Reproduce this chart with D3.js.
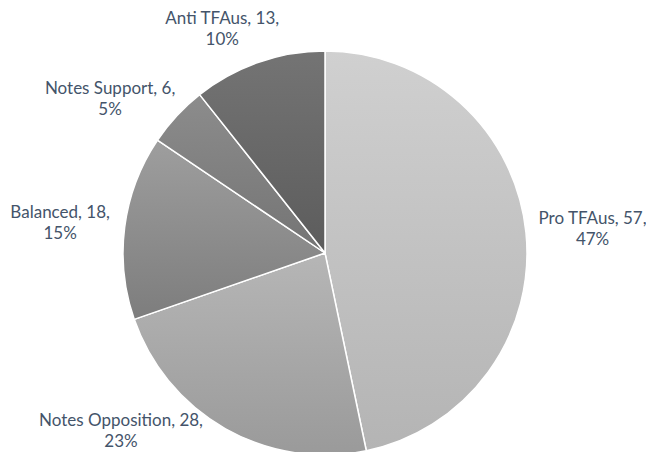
<!DOCTYPE html>
<html>
<head>
<meta charset="utf-8">
<script src="https://cdn.jsdelivr.net/npm/d3@7"></script>
<style>
  html, body { margin: 0; padding: 0; background: #fff; }
  svg { display: block; }
</style>
</head>
<body>
<div id="chart"></div>
<script>
// Data
const categories = ["Pro TFAus", "Notes Opposition", "Balanced", "Notes Support", "Anti TFAus"];
const counts = [57, 28, 18, 6, 13];
const percentLabels = ["47%", "23%", "15%", "5%", "10%"];

// Slice gradients (top, bottom)
const fillTop = ["#d0d0d0", "#b6b6b6", "#9e9e9e", "#8c8c8c", "#747474"];
const fillBottom = ["#b4b4b4", "#9a9a9a", "#7d7d7d", "#747474", "#5c5c5c"];

// Label placement: angle shift from slice middle (deg) and radius factor
const labelAngleShift = [0.7, 19.4, -0.8, -7.1, -5.4];
const labelRadius = [1.33, 1.34, 1.32, 1.31, 1.223];

const width = 646, height = 452;
const cx = 325, cy = 253, radius = 202;

const svg = d3.select("#chart")
  .append("svg")
  .attr("width", width)
  .attr("height", height)
  .attr("viewBox", [0, 0, width, height]);

const defs = svg.append("defs");
categories.forEach((c, i) => {
  const grad = defs.append("linearGradient")
    .attr("id", `grad-${i}`)
    .attr("x1", 0).attr("y1", 0)
    .attr("x2", 0).attr("y2", 1);
  grad.append("stop").attr("offset", "0%").attr("stop-color", fillTop[i]);
  grad.append("stop").attr("offset", "100%").attr("stop-color", fillBottom[i]);
});

const pie = d3.pie().sort(null).value((d) => d.value);
const data = categories.map((c, i) => ({ name: c, value: counts[i], pct: percentLabels[i], i }));
const arcs = pie(data);

const arc = d3.arc().innerRadius(0).outerRadius(radius);

const g = svg.append("g").attr("transform", `translate(${cx},${cy})`);

g.selectAll("path")
  .data(arcs)
  .join("path")
  .attr("d", arc)
  .attr("fill", (d) => `url(#grad-${d.data.i})`)
  .attr("stroke", "#fff")
  .attr("stroke-width", 1.5)
  .attr("stroke-linejoin", "round");

// Labels
const labels = g.selectAll("text.label")
  .data(arcs)
  .join("text")
  .attr("class", "label")
  .attr("text-anchor", "middle")
  .style("font-family", "Lato, 'Open Sans', sans-serif")
  .style("font-size", "17px")
  .attr("fill", "#44546a")
  .attr("transform", (d) => {
    const i = d.data.i;
    const a = (d.startAngle + d.endAngle) / 2 + (labelAngleShift[i] * Math.PI) / 180;
    const r = radius * labelRadius[i];
    return `translate(${r * Math.sin(a)},${-r * Math.cos(a)})`;
  });

labels.append("tspan")
  .attr("x", 0)
  .attr("y", -4.5)
  .text((d) => `${d.data.name}, ${d.data.value},`);

labels.append("tspan")
  .attr("x", 0)
  .attr("y", 16.5)
  .text((d) => d.data.pct);
</script>
</body>
</html>
